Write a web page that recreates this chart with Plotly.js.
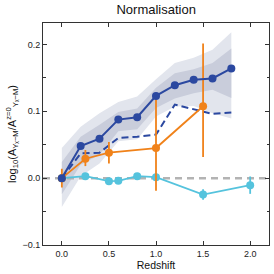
<!DOCTYPE html>
<html>
<head>
<meta charset="utf-8">
<script src="https://cdn.plot.ly/plotly-3.0.1.min.js"></script>
<style>html,body{margin:0;padding:0;background:#fff;}#chart{width:274px;height:274px;}</style>
</head>
<body>
<div id="chart"></div>
<script>
// Simulation (dark blue) mean relation with bands
const simZ = [0, 0.2, 0.4, 0.6, 0.8, 1.0, 1.2, 1.4, 1.6, 1.8];
const simMean = [0, 0.048, 0.059, 0.0875, 0.091, 0.123, 0.139, 0.147, 0.149, 0.164];
const simOuterHi = [0.045, 0.077, 0.097, 0.114, 0.122, 0.148, 0.172, 0.180, 0.192, 0.218];
const simInnerHi = [0.024, 0.062, 0.080, 0.099, 0.104, 0.135, 0.157, 0.163, 0.172, 0.194];
const simInnerLo = [-0.024, 0.020, 0.035, 0.070, 0.073, 0.105, 0.119, 0.127, 0.132, 0.120];
const simOuterLo = [-0.043, 0.003, 0.022, 0.055, 0.058, 0.092, 0.107, 0.108, 0.097, 0.089];
// Dashed dark blue
const dashZ = [0, 0.2, 0.4, 0.6, 0.8, 1.0, 1.2, 1.4, 1.6, 1.8];
const dashVal = [0, 0.037, 0.038, 0.060, 0.062, 0.065, 0.110, 0.103, 0.096, 0.098];
// Orange points
const orZ = [0, 0.25, 0.5, 1.0, 1.5];
const orVal = [0, 0.029, 0.038, 0.045, 0.1075];
const orErrUp = [0.014, 0.013, 0.016, 0.074, 0.094];
const orErrDn = [0.014, 0.011, 0.016, 0.064, 0.076];
// Cyan points
const cyZ = [0, 0.25, 0.5, 0.6, 0.8, 1.0, 1.5, 2.0];
const cyVal = [0, 0.003, -0.0045, -0.004, 0.003, 0.0015, -0.0245, -0.0105];
const cyErr = [0.002, 0.003, 0.003, 0.003, 0.003, 0.003, 0.008, 0.013];
// zero reference
const refX = [-0.2, 2.2];
const refY = [0, 0];

function band(lo, hi) {
  return {x: simZ.concat(simZ.slice().reverse()), y: hi.concat(lo.slice().reverse())};
}
const outer = band(simOuterLo, simOuterHi);
const inner = band(simInnerLo, simInnerHi);

const navy = '#2b48a0';
const orange = '#f0821a';
const cyan = '#55c3dd';

const traces = [
  {x: outer.x, y: outer.y, fill: 'toself', fillcolor: '#e2e5ed', line: {width: 0}, mode: 'lines', hoverinfo: 'skip'},
  {x: inner.x, y: inner.y, fill: 'toself', fillcolor: '#c9cddb', line: {width: 0}, mode: 'lines', hoverinfo: 'skip'},
  {x: refX, y: refY, mode: 'lines', line: {color: '#b3b3b3', width: 2.5, dash: '7px,5px'}},
  {x: dashZ, y: dashVal, mode: 'lines', line: {color: navy, width: 2, dash: '7px,4px'}},
  {x: cyZ, y: cyVal, mode: 'lines+markers', line: {color: cyan, width: 1.8}, marker: {color: cyan, size: 8},
   error_y: {type: 'data', array: cyErr, color: cyan, thickness: 1.8, width: 0}},
  {x: orZ, y: orVal, mode: 'lines+markers', line: {color: orange, width: 1.8}, marker: {color: orange, size: 8},
   error_y: {type: 'data', symmetric: false, array: orErrUp, arrayminus: orErrDn, color: orange, thickness: 1.8, width: 0}},
  {x: simZ, y: simMean, mode: 'lines+markers', line: {color: navy, width: 2}, marker: {color: navy, size: 8}}
];

const fontFam = 'Liberation Sans, Arial, sans-serif';
const layout = {
  width: 274, height: 274,
  margin: {l: 43, r: 5, t: 23, b: 29, pad: 0},
  paper_bgcolor: '#fff', plot_bgcolor: '#fff',
  showlegend: false,
  font: {family: fontFam, size: 9, color: '#222'},
  title: {text: 'Normalisation', font: {family: fontFam, size: 13, color: '#111'}, x: 0.57, xanchor: 'center', y: 0.965, yanchor: 'middle'},
  xaxis: {
    range: [-0.2, 2.2], tickvals: [0, 0.5, 1.0, 1.5, 2.0], ticktext: ['0.0', '0.5', '1.0', '1.5', '2.0'],
    ticks: 'inside', ticklen: 4, tickcolor: '#333', tickwidth: 1,
    showline: true, linecolor: '#333', linewidth: 1, mirror: 'allticks',
    showgrid: false, zeroline: false,
    tickfont: {size: 9, color: '#222'},
    title: {text: 'Redshift', font: {size: 10.5, color: '#111'}, standoff: 2}
  },
  yaxis: {
    range: [-0.1, 0.232], tickvals: [-0.1, 0, 0.1, 0.2], ticktext: ['\u22120.1', '0.0', '0.1', '0.2'],
    ticks: 'inside', ticklen: 4, tickcolor: '#333', tickwidth: 1,
    minor: {tickvals: [-0.05, 0.05, 0.15], ticks: 'inside', ticklen: 2.5, tickcolor: '#333', showgrid: false},
    showline: true, linecolor: '#333', linewidth: 1, mirror: 'allticks',
    showgrid: false, zeroline: false,
    tickfont: {size: 9, color: '#222'},
    title: {text: 'log<sub>10</sub>(A<sub>Y\u2093\u2212M</sub>/A<sup>z=0</sup><sub>Y\u2093\u2212M</sub>)', font: {size: 11, color: '#111'}, standoff: 3}
  }
};

Plotly.newPlot('chart', traces, layout, {displayModeBar: false, staticPlot: true});
</script>
</body>
</html>
